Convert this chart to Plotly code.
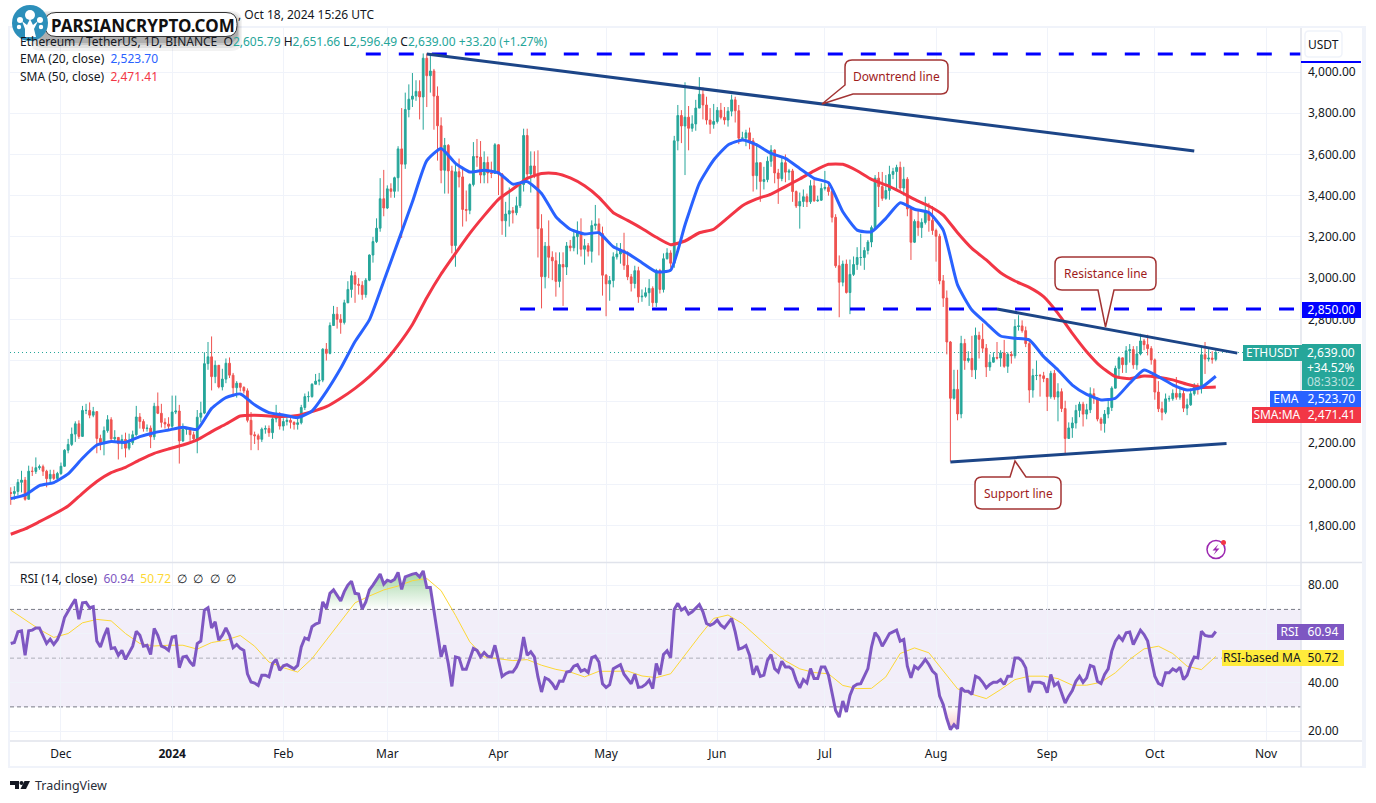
import numpy as np
import pandas as pd
import plotly.graph_objects as go
from plotly.subplots import make_subplots

# ETH/USDT daily, one row per month
first_day = "2023-11-17"
first_open = 1960
closes = [
    1955, 1965, 2009, 2020, 1927, 2063, 2062, 2080, 2085, 2063, 2027, 2048, 2028, 2052,
    2087, 2165, 2193, 2243, 2293, 2232, 2358, 2358, 2335, 2352, 2222, 2202, 2260, 2313, 2220, 2227, 2197, 2217, 2175, 2201, 2240, 2326, 2304, 2270, 2272, 2230, 2378, 2344, 2300, 2292, 2281,
    2350, 2355, 2210, 2267, 2268, 2240, 2220, 2325, 2345, 2585, 2618, 2522, 2577, 2472, 2510, 2587, 2529, 2468, 2490, 2470, 2453, 2310, 2240, 2235, 2218, 2267, 2270, 2250, 2317, 2343, 2282,
    2304, 2310, 2300, 2290, 2298, 2372, 2425, 2425, 2485, 2500, 2505, 2655, 2635, 2770, 2825, 2800, 2785, 2880, 2945, 3012, 2970, 2965, 2920, 2990, 3112, 3177, 3242, 3385, 3340,
    3433, 3421, 3487, 3627, 3553, 3818, 3868, 3883, 3906, 3879, 4067, 3982, 4005, 3883, 3739, 3523, 3644, 3520, 3158, 3516, 3491, 3333, 3329, 3454, 3590, 3587, 3500, 3561, 3510, 3508, 3647,
    3505, 3278, 3311, 3327, 3317, 3351, 3454, 3692, 3505, 3544, 3503, 3240, 3007, 3155, 3101, 3084, 2984, 3066, 3054, 3156, 3147, 3201, 3219, 3140, 3157, 3130, 3255, 3263, 3216, 3014,
    2972, 2988, 3103, 3117, 3136, 3062, 3006, 2974, 3036, 2909, 2912, 2929, 2950, 2881, 3037, 2945, 3094, 3122, 3072, 3666, 3789, 3738, 3781, 3727, 3748, 3825, 3892, 3840, 3767, 3746, 3760,
    3814, 3780, 3767, 3810, 3865, 3812, 3679, 3680, 3705, 3666, 3497, 3560, 3469, 3478, 3567, 3621, 3510, 3483, 3560, 3514, 3520, 3420, 3350, 3372, 3395, 3370, 3448, 3375, 3378, 3435,
    3440, 3420, 3295, 3060, 2980, 3068, 2930, 3018, 3066, 3100, 3100, 3134, 3175, 3245, 3485, 3444, 3387, 3425, 3503, 3517, 3537, 3437, 3480, 3336, 3174, 3275, 3245, 3270, 3318, 3280, 3231,
    3203, 2987, 2903, 2690, 2417, 2460, 2341, 2683, 2600, 2610, 2555, 2722, 2703, 2660, 2569, 2592, 2615, 2612, 2637, 2572, 2630, 2623, 2765, 2768, 2745, 2682, 2457, 2527, 2528, 2526, 2513,
    2425, 2538, 2423, 2449, 2367, 2222, 2273, 2297, 2358, 2388, 2340, 2361, 2439, 2418, 2316, 2295, 2340, 2372, 2466, 2562, 2613, 2580, 2647, 2653, 2579, 2632, 2695, 2677, 2658, 2603,
    2447, 2366, 2349, 2414, 2415, 2441, 2422, 2440, 2369, 2385, 2439, 2476, 2463, 2628, 2607, 2612, 2605.79, 2639,
]
highs = [
    1985, 1990, 2025, 2065, 2035, 2090, 2085, 2130, 2095, 2095, 2070, 2070, 2070, 2060,
    2105, 2170, 2220, 2275, 2305, 2310, 2380, 2390, 2397, 2375, 2355, 2240, 2280, 2335, 2325, 2262, 2225, 2240, 2250, 2245, 2260, 2380, 2345, 2315, 2290, 2285, 2395, 2445, 2390, 2320, 2325,
    2430, 2430, 2385, 2295, 2275, 2265, 2255, 2360, 2400, 2640, 2690, 2717, 2600, 2540, 2560, 2610, 2615, 2540, 2500, 2490, 2475, 2465, 2350, 2255, 2245, 2275, 2285, 2285, 2325, 2385, 2350,
    2320, 2325, 2325, 2305, 2330, 2385, 2440, 2450, 2490, 2535, 2540, 2660, 2685, 2785, 2865, 2860, 2825, 2895, 2985, 3035, 3030, 3000, 2985, 3000, 3115, 3200, 3290, 3485, 3525,
    3450, 3460, 3492, 3640, 3825, 3900, 3940, 3995, 3960, 3960, 4090, 4090, 4085, 4015, 3930, 3780, 3680, 3650, 3545, 3550, 3580, 3540, 3425, 3460, 3660, 3675, 3665, 3615, 3590, 3565, 3655,
    3650, 3510, 3370, 3440, 3345, 3395, 3460, 3725, 3725, 3615, 3615, 3620, 3310, 3175, 3280, 3130, 3125, 3125, 3125, 3175, 3185, 3235, 3275, 3290, 3190, 3170, 3280, 3355, 3290, 3250,
    3020, 3010, 3125, 3170, 3170, 3220, 3130, 3020, 3060, 3055, 2945, 2955, 2995, 2960, 3045, 3045, 3120, 3145, 3135, 3690, 3840, 3815, 3950, 3835, 3790, 3865, 3975, 3925, 3880, 3825, 3845,
    3830, 3850, 3830, 3830, 3890, 3880, 3840, 3710, 3720, 3730, 3680, 3655, 3560, 3540, 3590, 3645, 3625, 3530, 3590, 3600, 3530, 3530, 3425, 3415, 3430, 3410, 3475, 3480, 3400, 3460,
    3520, 3465, 3440, 3310, 3110, 3085, 3090, 3090, 3105, 3150, 3215, 3150, 3185, 3255, 3500, 3515, 3515, 3500, 3545, 3535, 3550, 3565, 3540, 3490, 3340, 3285, 3330, 3290, 3395, 3365, 3350,
    3240, 3215, 3015, 2940, 2695, 2555, 2555, 2720, 2705, 2645, 2720, 2760, 2740, 2780, 2680, 2630, 2640, 2690, 2650, 2700, 2640, 2645, 2800, 2820, 2795, 2765, 2700, 2560, 2600, 2535, 2545,
    2515, 2550, 2555, 2490, 2465, 2405, 2300, 2325, 2385, 2400, 2400, 2390, 2470, 2465, 2420, 2325, 2360, 2410, 2475, 2575, 2620, 2615, 2670, 2680, 2670, 2670, 2730, 2705, 2725, 2670,
    2610, 2500, 2400, 2440, 2430, 2460, 2520, 2465, 2465, 2415, 2465, 2490, 2490, 2670, 2690, 2655, 2645, 2651.66,
]
lows = [
    1900, 1925, 1945, 1960, 1920, 1925, 2040, 2050, 2070, 2040, 1985, 2005, 2020, 2022,
    2045, 2085, 2150, 2185, 2205, 2220, 2230, 2340, 2320, 2325, 2150, 2165, 2140, 2250, 2215, 2205, 2120, 2170, 2130, 2165, 2190, 2235, 2270, 2255, 2255, 2175, 2215, 2340, 2275, 2270, 2265,
    2270, 2340, 2100, 2205, 2240, 2210, 2215, 2150, 2300, 2340, 2555, 2455, 2490, 2465, 2455, 2490, 2515, 2425, 2420, 2450, 2440, 2300, 2165, 2195, 2165, 2205, 2245, 2230, 2220, 2300, 2265,
    2260, 2285, 2270, 2265, 2265, 2290, 2360, 2400, 2420, 2485, 2480, 2495, 2600, 2630, 2770, 2755, 2730, 2775, 2880, 2905, 2880, 2920, 2895, 2905, 2985, 3075, 3170, 3225, 3300,
    3335, 3390, 3390, 3420, 3195, 3530, 3780, 3830, 3860, 3770, 3720, 3830, 3900, 3720, 3570, 3460, 3410, 3410, 3120, 3055, 3440, 3250, 3275, 3310, 3445, 3540, 3460, 3460, 3460, 3485, 3505,
    3403, 3210, 3200, 3250, 3265, 3305, 3340, 3420, 3480, 3415, 3485, 3100, 2853, 2950, 3000, 2990, 2910, 2955, 2865, 3015, 3130, 3130, 3115, 3105, 3065, 3105, 3075, 3235, 3110, 2915,
    2815, 2890, 2955, 3090, 3070, 3040, 2990, 2935, 2950, 2880, 2885, 2905, 2865, 2860, 2860, 2925, 2930, 3090, 3050, 3050, 3620, 3655, 3500, 3620, 3710, 3715, 3825, 3770, 3745, 3700, 3725,
    3750, 3770, 3745, 3735, 3785, 3755, 3650, 3665, 3640, 3625, 3420, 3430, 3370, 3430, 3465, 3540, 3460, 3360, 3470, 3465, 3475, 3370, 3340, 3240, 3345, 3345, 3360, 3370, 3370, 3375,
    3425, 3400, 3270, 3050, 2810, 2960, 2925, 2825, 3010, 3040, 3060, 3040, 3115, 3150, 3235, 3345, 3375, 3380, 3380, 3480, 3425, 3420, 3400, 3300, 3088, 3170, 3205, 3195, 3260, 3225, 3210,
    3080, 2970, 2860, 2630, 2110, 2410, 2310, 2320, 2555, 2590, 2520, 2510, 2610, 2640, 2520, 2550, 2590, 2605, 2570, 2565, 2540, 2585, 2610, 2745, 2735, 2665, 2395, 2420, 2505, 2425, 2495,
    2355, 2415, 2410, 2305, 2350, 2150, 2220, 2225, 2270, 2325, 2280, 2315, 2345, 2390, 2305, 2260, 2250, 2320, 2355, 2465, 2525, 2540, 2540, 2590, 2560, 2555, 2625, 2650, 2625, 2580,
    2410, 2350, 2310, 2340, 2400, 2405, 2410, 2410, 2350, 2335, 2380, 2430, 2435, 2440, 2535, 2595, 2585, 2596.49,
]

# moving averages read every 4th day
ema20 = [
    1930, 1948, 1993, 2008, 2050, 2126, 2190, 2207, 2203, 2231, 2250, 2263, 2276, 2266, 2368, 2420, 2438, 2385, 2347, 2336,
    2323, 2355, 2449, 2562, 2692, 2797, 2985, 3177, 3370, 3570, 3629, 3557, 3515, 3523, 3511, 3456, 3468, 3411, 3298, 3237,
    3214, 3220, 3152, 3120, 3075, 3031, 3039, 3258, 3460, 3573, 3646, 3670, 3646, 3605, 3581, 3532, 3484, 3463, 3322, 3233,
    3225, 3290, 3366, 3334, 3318, 3233, 2967, 2845, 2781, 2719, 2708, 2700, 2619, 2554, 2481, 2436, 2409, 2417, 2490, 2554,
    2522, 2482, 2457, 2470, 2523.7,
]
sma50 = [
    1757, 1783, 1818, 1854, 1894, 1956, 2013, 2056, 2082, 2118, 2150, 2171, 2190, 2215, 2255, 2292, 2331, 2334, 2331, 2328,
    2334, 2352, 2376, 2417, 2465, 2522, 2590, 2675, 2775, 2905, 3020, 3120, 3217, 3303, 3382, 3432, 3484, 3508, 3508, 3486,
    3448, 3392, 3317, 3280, 3241, 3198, 3162, 3180, 3220, 3237, 3293, 3351, 3384, 3408, 3444, 3481, 3520, 3552, 3552, 3521,
    3479, 3452, 3419, 3382, 3350, 3306, 3220, 3144, 3088, 3026, 2986, 2955, 2910, 2829, 2732, 2643, 2570, 2522, 2512, 2525,
    2519, 2506, 2485, 2470, 2471.41,
]

rsi = [
    56, 56.4, 60.8, 61.2, 51.2, 61.2, 61.5, 62.4, 62.4, 59.4, 56, 57.8, 55.6, 57.6,
    61, 66.7, 69, 71.8, 74.2, 66, 72.7, 72.9, 70.7, 71.1, 57, 54.6, 59, 62.4, 54, 54.3, 51.2, 53.2, 49.5, 52.1, 54.9, 61, 59.4, 54.9, 55.3, 51.5, 62.2, 59.4, 54.9, 54.3, 53.2,
    58.7, 59, 46.1, 50.5, 50.8, 48.4, 46.8, 56, 57, 69.7, 70.7, 62.4, 64.9, 57.4, 59.4, 62.4, 59.4, 54.3, 55.6, 54, 53.2, 43.6, 40.2, 39.8, 38.8, 43, 43, 42.3, 47.8, 49.5, 45,
    46.9, 47.3, 46.4, 45.6, 47, 54.6, 58.3, 57.6, 62.9, 64, 64.6, 73.1, 70.4, 76.6, 78, 75.9, 73.5, 77.3, 80, 81.6, 76.6, 76.3, 70.1, 73.1, 78, 80, 82, 84.5, 80.4,
    82, 81.4, 82.3, 85.2, 78.2, 83.4, 84.1, 84.5, 84.8, 83.4, 85.8, 79, 79, 69.7, 60, 50.5, 55.3, 47.8, 38.4, 50.5, 50.1, 45.4, 45.4, 49.8, 54, 53.2, 50.5, 52.3, 50.8, 50.5, 55.3,
    49.1, 42.5, 43.6, 44.3, 44.3, 46.4, 49.8, 58.7, 51.2, 52.6, 50.5, 42.3, 36.1, 41.9, 41.2, 39.5, 37.2, 40.6, 40.5, 44.3, 44.6, 46.7, 47.3, 44.6, 45.3, 44.1, 50.2, 50.8, 48.4, 39.5,
    38, 39.1, 45.7, 46.4, 47.3, 43.4, 41.6, 39.5, 43.4, 38, 38.2, 39.2, 40.9, 37.5, 47.8, 43.2, 51.5, 53, 50.2, 70, 72.5, 69.7, 70.7, 68.1, 69, 70.7, 72, 69, 64.2, 63.5, 64.2,
    65.6, 63.5, 62.4, 64.5, 66.3, 60.8, 53.7, 54.2, 55.2, 51.2, 43.2, 46.8, 42.5, 43, 49.1, 51.5, 45.7, 44.3, 48.7, 46.4, 46.4, 45.3, 40.9, 37.8, 41.2, 39.8, 45.7, 41.6, 41.6, 46.4,
    46.4, 43, 35.4, 28.5, 25.8, 32.4, 27.9, 34.7, 38.4, 39.3, 39.5, 43, 45.7, 54.6, 60.5, 58.5, 54.9, 57.4, 60.1, 60.8, 61.5, 57, 57.7, 46.7, 41.9, 46.7, 45.6, 47.4, 49.5, 47.4, 44.7,
    43.3, 34.4, 31, 25.2, 20.7, 22.7, 21, 37.8, 36.4, 36.4, 35.1, 42.6, 41.9, 40.1, 37.8, 39.2, 40.1, 40.1, 41.2, 39.2, 42.6, 42.6, 50.1, 50.1, 48.8, 46, 36, 40.1, 40.1, 40.1, 39.5,
    35.8, 43.3, 38.8, 39.9, 35.8, 31.6, 34.4, 36.7, 40.5, 42.6, 40.1, 41.9, 47, 46.4, 40.5, 39.6, 43.3, 45.6, 52.9, 57, 59, 57.3, 60.4, 60.7, 55.6, 58.4, 61.5, 59.7, 57, 49.5,
    42.6, 39.6, 38.9, 44, 44, 45.6, 44.7, 46.3, 41.2, 43, 47.4, 50.5, 50.1, 61.1, 59.3, 59, 59, 60.94,
]
rsi_ma = [
    69.7, 65.9, 61.8, 58.5, 60.1, 64.5, 65.9, 65.3, 60.1, 56, 55, 55.3, 55.3, 53.7, 56.4, 57.4, 59.3, 54.9, 48.4, 46.1,
    44.3, 49.8, 57.4, 64.9, 72.7, 75.5, 78, 79.6, 81.8, 82.7, 77.7, 67.6, 56.7, 50.5, 49.8, 49, 49.4, 47.1, 45.4, 44.3,
    42.3, 44.6, 44.6, 44.7, 42.7, 42, 43.6, 51.5, 59, 66.3, 67.7, 64.2, 58.7, 53.5, 48.9, 45.6, 44.1, 43.6, 38.8, 37.5,
    37.6, 42.3, 51.9, 54.2, 52.2, 44.7, 37.4, 35.2, 33.4, 37.1, 41.2, 42.6, 42.6, 41.6, 38.9, 38.9, 40.1, 44, 49.5, 53.8,
    54.9, 51.9, 46.7, 45.3, 50.72,
]

price_ticks = [1800, 2000, 2200, 2400, 2600, 2800, 3000, 3200, 3400, 3600, 3800, 4000]
# 2,400 and 2,600 sit under the value tags in the original
price_labels = ["1,800.00", "2,000.00", "2,200.00", "", "", "2,800.00", "3,000.00", "3,200.00", "3,400.00", "3,600.00", "3,800.00", "4,000.00"]
rsi_ticks = [20, 40, 60, 80]
rsi_labels = ["20.00", "40.00", "", "80.00"]
month_ticks = ["2023-12-01", "2024-01-01", "2024-02-01", "2024-03-01", "2024-04-01", "2024-05-01",
               "2024-06-01", "2024-07-01", "2024-08-01", "2024-09-01", "2024-10-01", "2024-11-01"]
month_labels = ["Dec", "<b>2024</b>", "Feb", "Mar", "Apr", "May", "Jun", "Jul", "Aug", "Sep", "Oct", "Nov"]

# drawn lines (date, price)
top_level = 4087
support_level = 2850
downtrend_x, downtrend_y = ["2024-03-12", "2024-10-12"], [4087, 3617]
resistance_x, resistance_y = ["2024-08-18", "2024-10-24"], [2850, 2636]
support_x, support_y = ["2024-08-05", "2024-10-21"], [2108, 2198]

assert len(closes) == len(highs) == len(lows) == len(rsi) == 337
assert len(ema20) == len(sma50) == len(rsi_ma) == 85

dates = pd.date_range(first_day, periods=len(closes), freq="D")
opens = [first_open] + closes[:-1]
every4 = dates[::4]

W, H = 1376, 803
UP, DOWN = "#26a69a", "#ef5350"
BLUE, RED = "#2962ff", "#f23645"
PURPLE, YELLOW = "#7e57c2", "#fdd835"
NAVY = "#1c4587"
GRID = "#f0f3fa"
EDGE = "#e0e3eb"
TEXT = "#131722"
FONT = "Noto Sans"


def px(x):
    return x / W


def py(y):
    return 1 - y / H


fig = make_subplots(rows=2, cols=1, shared_xaxes=True)

fig.add_trace(go.Candlestick(
    x=dates, open=opens, high=highs, low=lows, close=closes,
    increasing=dict(line=dict(color=UP, width=1), fillcolor=UP),
    decreasing=dict(line=dict(color=DOWN, width=1), fillcolor=DOWN),
    whiskerwidth=0,
), row=1, col=1)
fig.add_trace(go.Scatter(x=every4, y=sma50, mode="lines", line=dict(color=RED, width=3, shape="spline", smoothing=0.5)), row=1, col=1)
fig.add_trace(go.Scatter(x=every4, y=ema20, mode="lines", line=dict(color=BLUE, width=3, shape="spline", smoothing=0.5)), row=1, col=1)

# dashed levels run out to the price scale
x_start = dates[0] - pd.Timedelta(hours=5)
x_end = dates[0] + pd.Timedelta(days=359.76)
for level, start in [(top_level, "2024-02-24"), (support_level, "2024-04-07")]:
    fig.add_trace(go.Scatter(x=[start, x_end], y=[level, level], mode="lines",
                             line=dict(color="#0000ff", width=3, dash="15px,18px")), row=1, col=1)
for lx, ly in [(downtrend_x, downtrend_y), (resistance_x, resistance_y), (support_x, support_y)]:
    fig.add_trace(go.Scatter(x=lx, y=ly, mode="lines", line=dict(color=NAVY, width=3)), row=1, col=1)

# overbought / oversold glow under the rsi line
fig.add_trace(go.Scatter(x=dates, y=[70] * len(dates), mode="lines", line=dict(width=0)), row=2, col=1)
fig.add_trace(go.Scatter(
    x=dates, y=np.maximum(rsi, 70), mode="lines", line=dict(width=0), fill="tonexty",
    fillgradient=dict(type="vertical", start=70, stop=86,
                      colorscale=[[0, "rgba(76,175,80,0)"], [1, "rgba(76,175,80,0.55)"]]),
), row=2, col=1)
fig.add_trace(go.Scatter(x=dates, y=[30] * len(dates), mode="lines", line=dict(width=0)), row=2, col=1)
fig.add_trace(go.Scatter(
    x=dates, y=np.minimum(rsi, 30), mode="lines", line=dict(width=0), fill="tonexty",
    fillgradient=dict(type="vertical", start=30, stop=20,
                      colorscale=[[0, "rgba(239,83,80,0)"], [1, "rgba(239,83,80,0.35)"]]),
), row=2, col=1)
fig.add_trace(go.Scatter(x=every4, y=rsi_ma, mode="lines", line=dict(color=YELLOW, width=1)), row=2, col=1)
fig.add_trace(go.Scatter(x=dates, y=rsi, mode="lines", line=dict(color=PURPLE, width=3)), row=2, col=1)

fig.update_layout(
    width=W, height=H, margin=dict(l=0, r=0, t=0, b=0), autosize=False,
    paper_bgcolor="white", plot_bgcolor="white", showlegend=False,
    font=dict(family=FONT, size=12, color=TEXT),
    xaxis=dict(domain=[px(10), px(1301)], range=[x_start, x_end], rangeslider=dict(visible=False),
               tickvals=month_ticks, ticktext=[""] * 12, showgrid=True, gridcolor=GRID, gridwidth=1,
               zeroline=False, showline=False, ticks=""),
    xaxis2=dict(domain=[px(10), px(1301)], range=[x_start, x_end], tickvals=month_ticks, ticktext=month_labels,
                showgrid=True, gridcolor=GRID, gridwidth=1, zeroline=False, showline=False, ticks="",
                ticklabelstandoff=4, tickfont=dict(size=12, color=TEXT, family=FONT)),
    yaxis=dict(domain=[py(562), py(28)], range=[1622.5, 4213.5], side="right", tickvals=price_ticks,
               ticktext=price_labels, showgrid=True, gridcolor=GRID, gridwidth=1,
               zeroline=False, showline=False, ticks="", ticklabelstandoff=6),
    yaxis2=dict(domain=[py(741), py(563)], range=[16, 89.05], side="right", tickvals=rsi_ticks,
                ticktext=rsi_labels, showgrid=True, gridcolor=GRID, gridwidth=1,
                zeroline=False, showline=False, ticks="", ticklabelstandoff=6),
)

shapes = []


def rect(x0, y0, x1, y1, fill, layer="above", line=None):
    shapes.append(dict(type="rect", xref="paper", yref="paper", x0=px(x0), y0=py(y0), x1=px(x1), y1=py(y1),
                       fillcolor=fill, line=line or dict(width=0), layer=layer))


def hline(y0, x0, x1, color, width=1):
    shapes.append(dict(type="line", xref="paper", yref="paper", x0=px(x0), x1=px(x1), y0=py(y0), y1=py(y0),
                       line=dict(color=color, width=width), layer="above"))


def circle(cx, cy, r, fill, line=None):
    shapes.append(dict(type="circle", xref="paper", yref="paper", x0=px(cx - r), x1=px(cx + r),
                       y0=py(cy - r), y1=py(cy + r), fillcolor=fill, line=line or dict(width=0), layer="above"))


def poly(points, fill, line=None):
    path = "M " + " L ".join(f"{px(x):.5f},{py(y):.5f}" for x, y in points) + " Z"
    shapes.append(dict(type="path", xref="paper", yref="paper", path=path, fillcolor=fill,
                       line=line or dict(width=0), layer="above"))


def rounded_path(left, top, right, bottom, r, pointer=None):
    # pointer is a list of pixels put into the outline, tagged by the side it leaves from
    p = lambda x, y: f"{px(x):.5f},{py(y):.5f}"
    d = [f"M {p(left + r, top)}"]
    if pointer and pointer[0] == "top":
        d += [f"L {p(*q)}" for q in pointer[1]]
    d += [f"L {p(right - r, top)}", f"Q {p(right, top)} {p(right, top + r)}", f"L {p(right, bottom - r)}",
          f"Q {p(right, bottom)} {p(right - r, bottom)}"]
    if pointer and pointer[0] == "bottom":
        d += [f"L {p(*q)}" for q in pointer[1]]
    if pointer and pointer[0] == "corner":
        d += [f"L {p(*q)}" for q in pointer[1]]
    else:
        d += [f"L {p(left + r, bottom)}", f"Q {p(left, bottom)} {p(left, bottom - r)}"]
    d += [f"L {p(left, top + r)}", f"Q {p(left, top)} {p(left + r, top)}", "Z"]
    return " ".join(d)


# rsi band
shapes.append(dict(type="rect", xref="paper", yref="y2", x0=px(10), x1=px(1301), y0=30, y1=70,
                   fillcolor="rgba(126,87,194,0.1)", line=dict(width=0), layer="below"))
for level, color in [(70, "#787b86"), (50, "rgba(120,123,134,0.55)"), (30, "#787b86")]:
    shapes.append(dict(type="line", xref="paper", yref="y2", x0=px(10), x1=px(1301), y0=level, y1=level,
                       line=dict(color=color, width=1, dash="4px,3px"), layer="below"))
# last price dots
shapes.append(dict(type="line", xref="paper", yref="y", x0=px(10), x1=px(1243), y0=2639, y1=2639,
                   line=dict(color=UP, width=1, dash="1px,3px"), layer="below"))

# frame
rect(8, 26, 10, 768, GRID)
rect(8, 26, 1366, 28, GRID)
rect(8, 766, 1366, 768, GRID)
rect(1362, 26, 1366, 768, GRID)
shapes.append(dict(type="line", xref="paper", yref="paper", x0=px(1301), x1=px(1301), y0=py(28), y1=py(767),
                   line=dict(color=EDGE, width=1.5), layer="above"))
hline(562.5, 10, 1362, EDGE, 1.5)
hline(741, 10, 1362, EDGE, 1.5)

# scale button and the squashed tag of the top level
shapes.append(dict(type="path", xref="paper", yref="paper", path=rounded_path(1305, 31, 1342, 57, 4),
                   fillcolor="white", line=dict(color=GRID, width=1.5), layer="above"))
rect(1301, 61, 1361, 63, "#0000ff")

# callouts
callout_line = dict(color="#a33434", width=1.5)
shapes.append(dict(type="path", xref="paper", yref="paper", layer="above", fillcolor="white", line=callout_line,
                   path=rounded_path(845, 60, 948, 94, 7, ("corner", [(853, 94), (822, 104), (845, 85)]))))
shapes.append(dict(type="path", xref="paper", yref="paper", layer="above", fillcolor="white", line=callout_line,
                   path=rounded_path(1055, 257, 1156, 290, 7, ("bottom", [(1114, 290), (1105.5, 327), (1098, 290)]))))
shapes.append(dict(type="path", xref="paper", yref="paper", layer="above", fillcolor="white", line=callout_line,
                   path=rounded_path(975, 477, 1061, 509, 7, ("top", [(1010, 477), (1015, 461), (1026, 477)]))))

# lightning badge
circle(1216, 549.5, 9, "white", dict(color="#9c27b0", width=1.5))
poly([(1218.5, 544), (1212.5, 550.5), (1216, 550.5), (1213.5, 555), (1219.5, 548.5), (1216, 548.5)], "#9c27b0")
circle(1223.5, 542.5, 2.5, RED)

# watermark: soft shadow, pill, round logo
for grow, alpha in [(10, 0.05), (7, 0.07), (4, 0.10), (2, 0.13)]:
    shapes.append(dict(type="path", xref="paper", yref="paper", layer="above", line=dict(width=0),
                       fillcolor=f"rgba(0,0,0,{alpha})",
                       path=rounded_path(40 - grow, 16 - grow / 2, 237 + grow / 2, 41 + grow, 11)))
shapes.append(dict(type="path", xref="paper", yref="paper", layer="above", fillcolor="white",
                   line=dict(color="#333333", width=1), path=rounded_path(45, 12.5, 237, 36.5, 11)))
circle(30, 23, 18, "#2c8fba")
poly([(25, 37), (36, 37), (34, 29), (38, 21), (33, 25), (30, 19), (27, 25), (22, 21), (25, 29)], "white")
circle(30, 15, 5, "white")
circle(20, 20, 3, "white")
circle(40, 20, 3, "white")
circle(19, 27, 2.2, "white")
circle(41, 27, 2.2, "white")

# TradingView mark
poly([(10, 781), (19, 781), (19, 789), (15, 789), (15, 785), (10, 785)], "#131722")
circle(21.5, 783, 2, "#131722")
poly([(24.5, 781), (30, 781), (26, 789), (20.5, 789)], "#131722")

fig.update_layout(shapes=shapes)

notes = []


def label(x, y, text, size=12, color=TEXT, anchor="left"):
    notes.append(dict(xref="paper", yref="paper", x=px(x), y=py(y), text=text, showarrow=False,
                      xanchor=anchor, yanchor="middle", font=dict(family=FONT, size=size, color=color)))


def tag(x0, x1, y, text, fill, color="white", height=15.5):
    # flat tag, y is the pixel row it is centred on (tags get pushed apart on the scale)
    notes.append(dict(xref="paper", yref="paper", x=px(x1), y=py(y), text=text, showarrow=False, xanchor="right",
                      yanchor="middle", width=x1 - x0, height=height, align="center", valign="middle", bgcolor=fill,
                      borderpad=0, borderwidth=0, font=dict(family=FONT, size=12, color=color)))


def c(text, color):
    return f'<span style="color:{color}">{text}</span>'


label(236, 15, ", Oct 18, 2024 15:26 UTC")
label(18, 42, "Ethereum / TetherUS, 1D, BINANCE  O" + c("2,605.79", UP) + " H" + c("2,651.66", UP) + " L" + c("2,596.49", UP)
      + " C" + c("2,639.00", UP) + " " + c("+33.20 (+1.27%)", UP))
label(18, 59, "EMA (20, close)  " + c("2,523.70", BLUE))
label(18, 76, "SMA (50, close)  " + c("2,471.41", RED))
label(18, 578, "RSI (14, close)  " + c("60.94", PURPLE) + "  " + c("50.72", YELLOW) + "  ∅  ∅  ∅  ∅")
label(49, 25, "<b>PARSIANCRYPTO.COM</b>", size=17, color="#111111")
label(33, 785, "TradingView", size=12.5, color="#2a2e39")
label(1323.5, 44, "USDT", anchor="center")
label(896, 77, "Downtrend line", color="#a01c1c", anchor="center")
label(1105.5, 273, "Resistance line", color="#a01c1c", anchor="center")
label(1018, 493, "Support line", color="#a01c1c", anchor="center")

# tags on the scales
tag(1243, 1302, 352.5, "ETHUSDT", UP)
tag(1302, 1361, 367, "&nbsp;", UP, height=46)
label(1331, 352.5, "2,639.00", color="white", anchor="center")
label(1331, 367, "+34.52%", color="white", anchor="center")
label(1331, 381, "08:33:02", color="rgba(255,255,255,0.7)", anchor="center")
tag(1302, 1361, 310, "2,850.00", "#0000ff")
tag(1270, 1302, 398.5, "EMA", BLUE)
tag(1302, 1361, 398.5, "2,523.70", BLUE)
tag(1252, 1302, 415, "SMA:MA", RED)
tag(1302, 1361, 415, "2,471.41", RED)
tag(1277, 1302, 631.5, "RSI", PURPLE)
tag(1302, 1344, 631.5, "60.94", PURPLE)
tag(1222, 1302, 658, "RSI-based MA", "#ffeb3b", color=TEXT)
tag(1302, 1344, 658, "50.72", "#ffeb3b", color=TEXT)

fig.update_layout(annotations=notes)

fig.write_html("out.html", config=dict(displayModeBar=False),
               post_script="document.body.style.margin='0';document.body.style.overflow='hidden';")
